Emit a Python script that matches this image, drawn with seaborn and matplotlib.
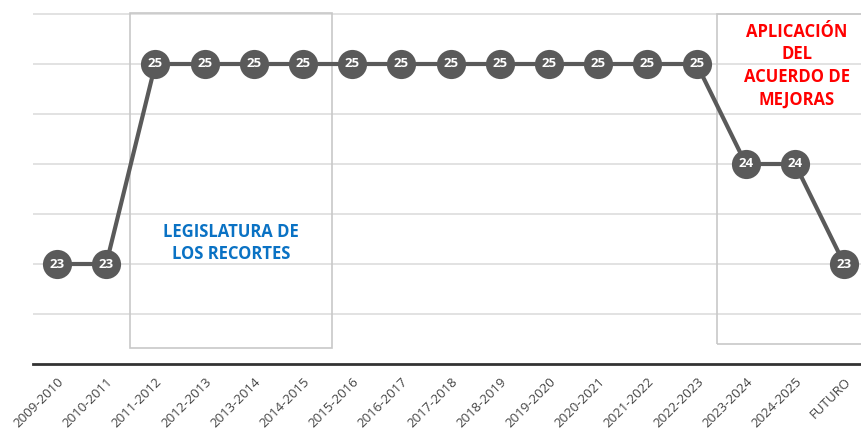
import matplotlib
matplotlib.use("Agg")
import matplotlib.pyplot as plt
import seaborn as sns
import pandas as pd
from matplotlib.patches import Rectangle

periods = ["2009-2010", "2010-2011", "2011-2012", "2012-2013", "2013-2014", "2014-2015",
           "2015-2016", "2016-2017", "2017-2018", "2018-2019", "2019-2020", "2020-2021",
           "2021-2022", "2022-2023", "2023-2024", "2024-2025", "FUTURO"]
hours = [23, 23, 25, 25, 25, 25, 25, 25, 25, 25, 25, 25, 25, 25, 24, 24, 23]

sns.set_theme(style="white")
plt.rcParams['font.family'] = ['Open Sans', 'DejaVu Sans']

df = pd.DataFrame({"x": range(len(periods)), "y": hours})

fig = plt.figure(figsize=(8.61, 4.30), dpi=100)
ax = fig.add_axes([33/861, (430-364)/430, 1 - 33/861, (364-10)/430])

for gy in [22.5, 23, 23.5, 24, 24.5, 25, 25.5]:
    ax.axhline(gy, color="#dddddd", lw=1.2, zorder=0)

ax.add_patch(Rectangle((1.484, 22.16), 5.59 - 1.484, 25.51 - 22.16,
                       fill=False, edgecolor="#c8c8c8", lw=1.2, zorder=1))
ax.add_patch(Rectangle((13.41, 22.2), 4.0, 25.50 - 22.2,
                       fill=False, edgecolor="#c8c8c8", lw=1.2, zorder=1, clip_on=True))

sns.lineplot(data=df, x="x", y="y", ax=ax, color="#5a5a5a", lw=3, marker="o",
             markersize=21, markeredgewidth=0, markerfacecolor="#5a5a5a", zorder=3)

for xi, yi in zip(df["x"], df["y"]):
    ax.text(xi, yi, str(yi), color="white", ha="center", va="center",
            fontsize=9.5, fontweight="bold", zorder=4)

ax.text(3.54, 23.21, "LEGISLATURA DE\nLOS RECORTES", color="#0a72c4", ha="center",
        va="center", fontsize=12, fontweight="bold", linespacing=1.25, zorder=2)
ax.text(15.04, 24.985, "APLICACIÓN\nDEL\nACUERDO DE\nMEJORAS", color="#ff0000", ha="center",
        va="center", fontsize=12, fontweight="bold", linespacing=1.33, zorder=2)

ax.set_xlim(-0.488, 16.34)
ax.set_ylim(22, 25.54)
ax.set_xticks(range(len(periods)))
ax.set_xticklabels(periods, rotation=45, ha="right", rotation_mode="anchor",
                   fontsize=9.5, color="#444444")
ax.tick_params(axis="x", length=0, pad=8)
ax.set_yticks([])
ax.set_xlabel("")
ax.set_ylabel("")
for s in ["top", "right", "left"]:
    ax.spines[s].set_visible(False)
ax.spines["bottom"].set_color("#333333")
ax.spines["bottom"].set_linewidth(2)

fig.savefig("out.png", dpi=100)
